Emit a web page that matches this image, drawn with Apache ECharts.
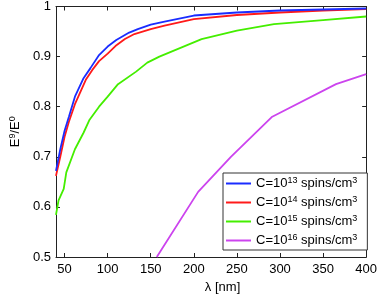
<!DOCTYPE html>
<html><head><meta charset="utf-8">
<script src="https://cdn.jsdelivr.net/npm/echarts@6/dist/echarts.min.js"></script>
<style>html,body{margin:0;padding:0;background:#fff}#c{width:380px;height:299px}</style>
</head><body><div id="c"></div>
<script>
const xTicks = [50,100,150,200,250,300,350,400];
const yTicks = [0.5,0.6,0.7,0.8,0.9,1];
const names = ['C=10^13 spins/cm^3','C=10^14 spins/cm^3','C=10^15 spins/cm^3','C=10^16 spins/cm^3'];
const colors = ['#1a2cff','#ff1a1a','#44ee00','#cc44ee'];
const c13 = [[40,0.672],[45,0.715],[50,0.752],[55,0.78],[62,0.82],[72,0.857],[80,0.877],[90,0.903],[100,0.92],[110,0.933],[125,0.948],[135,0.955],[150,0.964],[166,0.970],[200,0.982],[250,0.988],[300,0.992],[350,0.994],[400,0.996]];
const c14 = [[40,0.662],[45,0.70],[50,0.74],[55,0.77],[62,0.805],[75,0.855],[82,0.873],[90,0.891],[100,0.906],[109,0.921],[120,0.935],[131,0.945],[150,0.955],[166,0.962],[200,0.975],[250,0.983],[300,0.988],[350,0.992],[400,0.995]];
const c15 = [[40,0.584],[43,0.613],[49,0.636],[52,0.669],[62,0.715],[72,0.748],[79,0.774],[90,0.80],[100,0.82],[112,0.845],[133,0.870],[146,0.888],[160,0.900],[209,0.935],[250,0.952],[293,0.965],[350,0.973],[400,0.980]];
const c16 = [[157,0.5],[205,0.63],[243,0.70],[291,0.78],[365,0.845],[400,0.865]];
const seriesData = [c13,c14,c15,c16];

const font = 'Liberation Sans, Arial, sans-serif';
const chart = echarts.init(document.getElementById('c'));
const tickIn = {show:true, inside:true, length:4, lineStyle:{color:'#222'}};
const axLine = {show:true, onZero:false, lineStyle:{color:'#222', width:1}};
chart.setOption({
  animation:false,
  grid:{left:45,right:12,top:6,bottom:40},
  xAxis:[{
    type:'value', min:40, max:400, position:'bottom',
    axisLine:axLine, axisTick:Object.assign({customValues:xTicks},tickIn),
    axisLabel:{customValues:xTicks, color:'#000', fontSize:13, fontFamily:font, margin:6},
    splitLine:{show:false},
    name:'λ [nm]', nameLocation:'middle', nameGap:24,
    nameTextStyle:{color:'#000', fontSize:13, fontFamily:font, padding:[0,0,0,23]}
  },{
    type:'value', min:40, max:400, position:'top',
    axisLine:axLine, axisTick:Object.assign({customValues:xTicks},tickIn),
    axisLabel:{show:false}, splitLine:{show:false}
  }],
  yAxis:[{
    type:'value', min:0.5, max:1, interval:0.1, position:'left',
    axisLine:axLine, axisTick:tickIn,
    axisLabel:{color:'#000', fontSize:13, fontFamily:font, margin:5,
      formatter:v=>String(+v.toFixed(1))},
    splitLine:{show:false},
    name:'{t|E}{s|9}{t|/E}{s|0}', nameLocation:'middle', nameGap:23, nameRotate:90,
    nameTextStyle:{color:'#000', fontFamily:font,
      rich:{t:{fontSize:13,fontFamily:font,color:'#000'}, s:{fontSize:9,fontFamily:font,color:'#000',padding:[0,0,6,0]}}}
  },{
    type:'value', min:0.5, max:1, interval:0.1, position:'right',
    axisLine:axLine, axisTick:tickIn, axisLabel:{show:false}, splitLine:{show:false}
  }],
  legend:{
    orient:'vertical', left:223, top:173,
    padding:[3,10,3,3], itemGap:5, itemWidth:25, itemHeight:2, icon:'rect',
    backgroundColor:'#fff', borderColor:'#333', borderWidth:1, borderRadius:0,
    data:names,
    formatter:n=>{const m=n.match(/C=10\^(\d+) spins\/cm\^(\d)/);return '{t|C=10}{s|'+m[1]+'}{t| spins/cm}{s|'+m[2]+'}';},
    textStyle:{color:'#000', fontFamily:font,
      rich:{t:{fontSize:13,fontFamily:font,color:'#000'}, s:{fontSize:9,fontFamily:font,color:'#000',padding:[0,0,6,0]}}}
  },
  series:seriesData.map((d,i)=>({
    type:'line', name:names[i], data:d, showSymbol:false, symbol:'none',
    clip:true, lineStyle:{color:colors[i], width:1.8}, itemStyle:{color:colors[i]},
    z: 10-i
  }))
});
</script></body></html>
